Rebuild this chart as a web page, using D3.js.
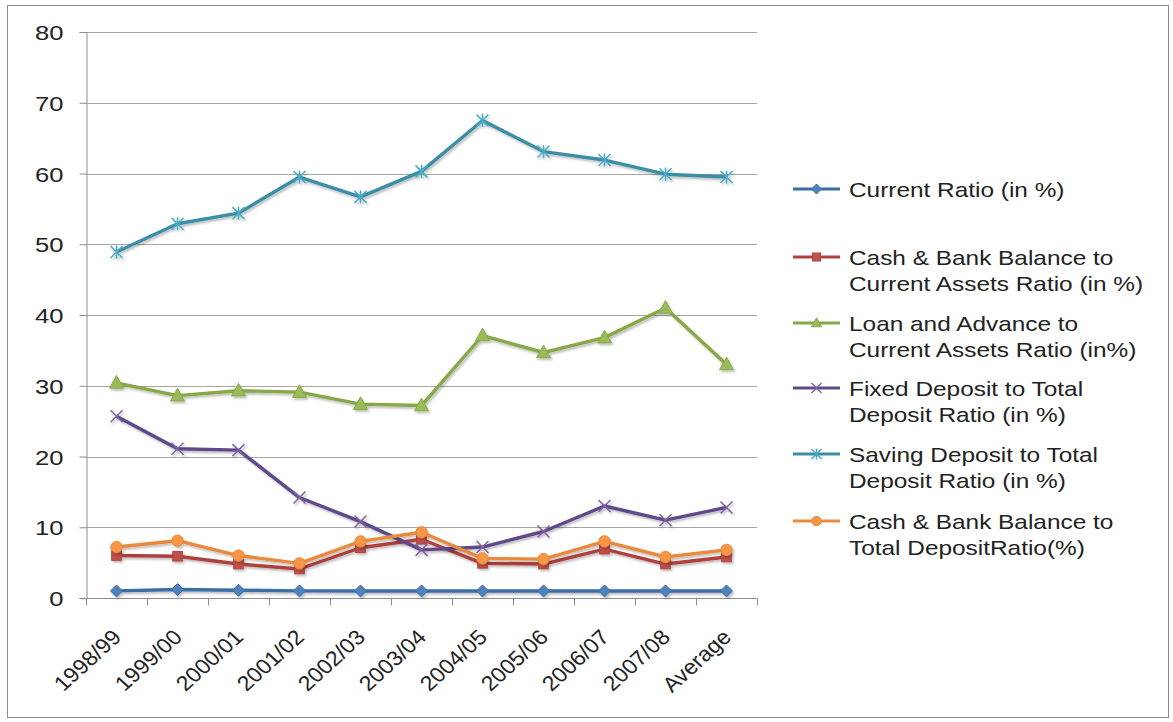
<!DOCTYPE html>
<html>
<head>
<meta charset="utf-8">
<script src="https://cdn.jsdelivr.net/npm/d3@7"></script>
<style>
  html, body { margin: 0; padding: 0; background: #fff; }
  svg { display: block; font-family: "Liberation Sans", Arial, sans-serif; }
</style>
</head>
<body>
<svg id="chart" width="1173" height="722"></svg>
<script>
// Categories (financial years plus the average)
const categories = ["1998/99", "1999/00", "2000/01", "2001/02", "2002/03", "2003/04",
                    "2004/05", "2005/06", "2006/07", "2007/08", "Average"];

// Ratio series (in %)
const currentRatio      = [1.0, 1.2, 1.1, 1.0, 1.0, 1.0, 1.0, 1.0, 1.0, 1.0, 1.0];
const cashToCurrAssets  = [6.0, 5.9, 4.8, 4.1, 7.1, 8.3, 4.9, 4.8, 6.9, 4.8, 5.8];
const loanToCurrAssets  = [30.4, 28.6, 29.3, 29.1, 27.4, 27.2, 37.1, 34.7, 36.8, 41.0, 33.0];
const fixedToTotalDep   = [25.7, 21.1, 20.9, 14.2, 10.8, 6.8, 7.2, 9.4, 13.0, 11.0, 12.8];
const savingToTotalDep  = [48.9, 52.9, 54.4, 59.5, 56.7, 60.3, 67.5, 63.1, 61.9, 59.9, 59.5];
const cashToTotalDep    = [7.2, 8.1, 6.0, 4.9, 8.0, 9.3, 5.6, 5.5, 8.0, 5.8, 6.8];

const yTicks = [0, 10, 20, 30, 40, 50, 60, 70, 80];

const seriesNames = [
  ["Current Ratio (in %)"],
  ["Cash & Bank Balance to", "Current Assets Ratio (in %)"],
  ["Loan and Advance to", "Current Assets Ratio (in%)"],
  ["Fixed Deposit to Total", "Deposit Ratio (in %)"],
  ["Saving Deposit to Total", "Deposit Ratio (in %)"],
  ["Cash & Bank Balance to", "Total DepositRatio(%)"]
];

const series = [
  { name: seriesNames[0], values: currentRatio,     line: "#3b6ea5", fill: "#4f81bd", marker: "diamond" },
  { name: seriesNames[1], values: cashToCurrAssets, line: "#b0413e", fill: "#c0504d", marker: "square" },
  { name: seriesNames[2], values: loanToCurrAssets, line: "#86a846", fill: "#9bbb59", marker: "triangle" },
  { name: seriesNames[3], values: fixedToTotalDep,  line: "#5e4a8a", fill: "#8064a2", marker: "x" },
  { name: seriesNames[4], values: savingToTotalDep, line: "#3b8ea6", fill: "#4bacc6", marker: "star" },
  { name: seriesNames[5], values: cashToTotalDep,   line: "#e8893c", fill: "#f79646", marker: "circle" }
];

// Text is drawn slightly wide
const XSTRETCH = 1.22;

const svg = d3.select("#chart");

// Outer chart border
svg.append("rect").attr("x", 7.5).attr("y", 5.5).attr("width", 1161).attr("height", 712)
  .attr("fill", "#fff").attr("stroke", "#8c8c8c").attr("stroke-width", 1);

const plot = { left: 86, right: 757, top: 32, bottom: 598 };

const x = d3.scaleBand().domain(categories).range([plot.left, plot.right]).padding(0);
const y = d3.scaleLinear().domain([0, 80]).range([plot.bottom, plot.top]);

// Horizontal gridlines
svg.append("g").selectAll("line").data(yTicks.filter(d => d > 0)).join("line")
  .attr("x1", plot.left).attr("x2", plot.right)
  .attr("y1", d => Math.round(y(d)) + 0.5).attr("y2", d => Math.round(y(d)) + 0.5)
  .attr("stroke", "#a6a6a6").attr("stroke-width", 1.2);

// Y axis
const yAxis = svg.append("g").attr("transform", `translate(${plot.left + 0.5},0)`)
  .call(d3.axisLeft(y).tickValues(yTicks).tickSize(7).tickFormat(d3.format("d")));
yAxis.select(".domain").attr("stroke", "#8c8c8c");
yAxis.selectAll(".tick line").attr("stroke", "#8c8c8c");
yAxis.selectAll(".tick text")
  .attr("x", null).attr("dy", null)
  .attr("transform", `translate(-23,7.5) scale(${XSTRETCH},1)`)
  .attr("font-size", 21).attr("fill", "#222")
  .attr("font-family", "'Liberation Sans', Arial, sans-serif");

// X axis: tick marks at category boundaries
const xAxisG = svg.append("g").attr("transform", `translate(0,${plot.bottom + 0.5})`);
xAxisG.append("line").attr("x1", plot.left).attr("x2", plot.right).attr("stroke", "#8c8c8c");
const boundaries = categories.map(c => x(c)).concat([x(categories[categories.length - 1]) + x.bandwidth()]);
xAxisG.selectAll("line.tk").data(boundaries).join("line").attr("class", "tk")
  .attr("x1", d => Math.round(d) + 0.5).attr("x2", d => Math.round(d) + 0.5)
  .attr("y1", 0).attr("y2", 7).attr("stroke", "#8c8c8c");
xAxisG.selectAll("text").data(categories).join("text")
  .attr("transform", d => `translate(${x(d) + x.bandwidth() / 2 + 6},${40}) scale(1.1,1) rotate(-45)`)
  .attr("text-anchor", "end")
  .attr("font-size", 21).attr("fill", "#222")
  .text(d => d);

// Marker shapes
function drawMarker(g, type, fill, stroke, size) {
  const s = size;
  if (type === "diamond") {
    g.append("path").attr("d", `M0,${-s}L${s},0L0,${s}L${-s},0Z`).attr("fill", fill).attr("stroke", stroke).attr("stroke-width", 1);
  } else if (type === "square") {
    g.append("rect").attr("x", -s * 0.8).attr("y", -s * 0.8).attr("width", s * 1.6).attr("height", s * 1.6)
      .attr("fill", fill).attr("stroke", stroke).attr("stroke-width", 1);
  } else if (type === "triangle") {
    g.append("path").attr("d", `M0,${-s * 1.05}L${s},${s * 0.75}L${-s},${s * 0.75}Z`).attr("fill", fill).attr("stroke", stroke).attr("stroke-width", 1);
  } else if (type === "circle") {
    g.append("circle").attr("r", s * 0.95).attr("fill", fill).attr("stroke", stroke).attr("stroke-width", 1);
  } else if (type === "x") {
    g.append("path").attr("d", `M${-s},${-s}L${s},${s}M${-s},${s}L${s},${-s}`).attr("stroke", fill).attr("stroke-width", 1.5).attr("fill", "none");
  } else if (type === "star") {
    g.append("path").attr("d", `M${-s},${-s}L${s},${s}M${-s},${s}L${s},${-s}M0,${-s * 1.1}L0,${s * 1.1}`)
      .attr("stroke", fill).attr("stroke-width", 1.5).attr("fill", "none");
  }
}

const line = d3.line().x((d, i) => x(categories[i]) + x.bandwidth() / 2).y(d => y(d));

// Soft drop shadow under lines
const defs = svg.append("defs");
const f = defs.append("filter").attr("id", "shadow").attr("x", "-10%").attr("y", "-10%").attr("width", "120%").attr("height", "130%");
f.append("feDropShadow").attr("dx", 1.5).attr("dy", 2).attr("stdDeviation", 1.2).attr("flood-color", "#000").attr("flood-opacity", 0.25);

const seriesG = svg.append("g");
series.forEach(s => {
  const g = seriesG.append("g").attr("filter", "url(#shadow)");
  g.append("path").datum(s.values).attr("d", line)
    .attr("fill", "none").attr("stroke", s.line).attr("stroke-width", 3.4).attr("stroke-linejoin", "round");
  s.values.forEach((v, i) => {
    const mg = g.append("g").attr("transform", `translate(${x(categories[i]) + x.bandwidth() / 2},${y(v)})`);
    drawMarker(mg, s.marker, s.fill, s.line, s.marker === "triangle" ? 7 : 6);
  });
});

// Legend
const legendRows = [189, 257, 323, 388, 454, 521];
const legend = svg.append("g");
series.forEach((s, i) => {
  const ly = legendRows[i];
  const g = legend.append("g");
  g.append("line").attr("x1", 793).attr("x2", 840).attr("y1", ly).attr("y2", ly)
    .attr("stroke", s.line).attr("stroke-width", 3);
  const mg = g.append("g").attr("transform", `translate(816.5,${ly})`);
  drawMarker(mg, s.marker, s.fill, s.line, 5);
  s.name.forEach((t, k) => {
    g.append("text")
      .attr("transform", `translate(849,${ly + 8 + k * 26}) scale(${XSTRETCH},1)`)
      .attr("font-size", 20).attr("fill", "#222").text(t);
  });
});
</script>
</body>
</html>
